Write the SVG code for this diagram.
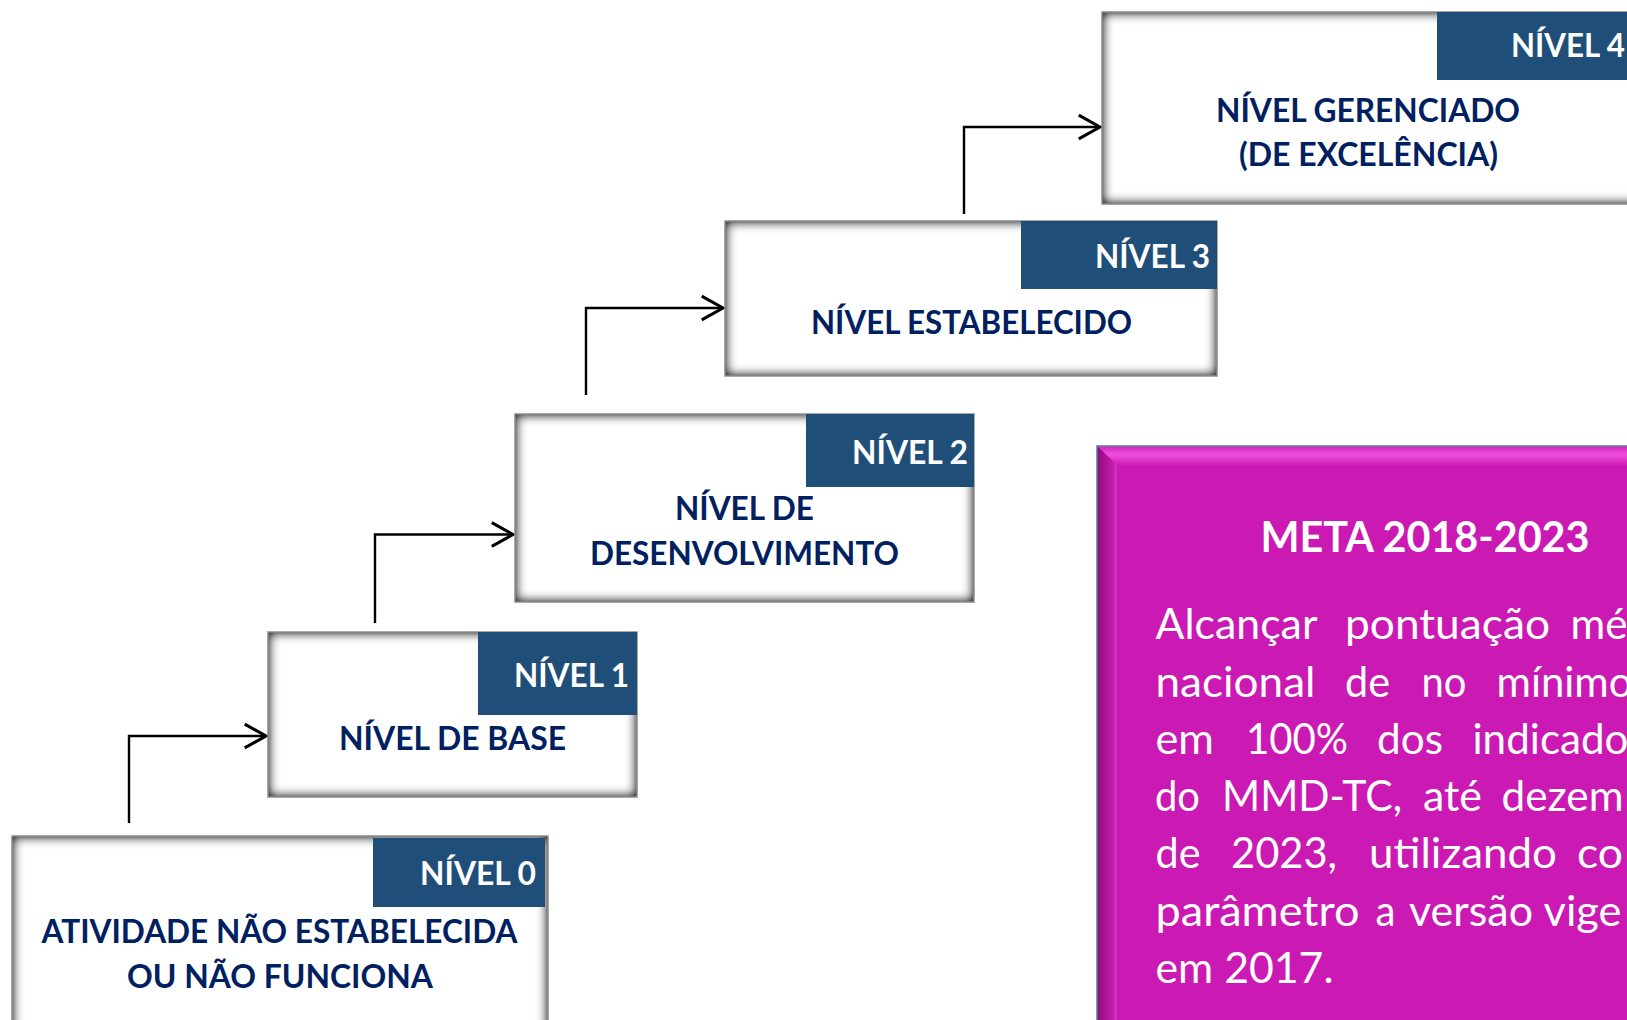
<svg xmlns="http://www.w3.org/2000/svg" width="1627" height="1020" viewBox="0 0 1627 1020">
<defs>
<style>
.box{fill:#ffffff}
.edge{fill:none;stroke:#8c8c8c;stroke-width:1.5}
.tab{fill:#1f4e79}
.tl{font-family:Lato,"Liberation Sans",sans-serif;font-weight:bold;font-size:32px;fill:#ffffff}
.lbl{font-family:Lato,"Liberation Sans",sans-serif;font-weight:bold;font-size:32px;fill:#002060}
.conn{fill:none;stroke:#000000;stroke-width:2.4;marker-end:url(#arr)}
.meta-t{font-family:Lato,"Liberation Sans",sans-serif;font-weight:bold;font-size:42px;fill:#ffffff}
.mb{font-family:Lato,"Liberation Sans",sans-serif;font-size:43px;fill:#ffffff}
</style>
<filter id="inset" x="-10%" y="-15%" width="120%" height="130%" color-interpolation-filters="sRGB">
<feFlood flood-color="#4a4a4a" result="c"/>
<feComposite in="c" in2="SourceAlpha" operator="out" result="outside"/>
<feGaussianBlur in="outside" stdDeviation="6" result="blur"/>
<feComposite in="blur" in2="SourceAlpha" operator="in" result="sh"/>
<feComponentTransfer in="sh" result="shadow"><feFuncA type="linear" slope="1.6"/></feComponentTransfer>
<feMerge><feMergeNode in="SourceGraphic"/><feMergeNode in="shadow"/></feMerge>
</filter>
<marker id="arr" markerUnits="userSpaceOnUse" markerWidth="30" markerHeight="30" viewBox="-20 -12 24 24" refX="0" refY="0" orient="auto">
<path d="M-17,-9.5 L0,0 L-17,9.5" fill="none" stroke="#000000" stroke-width="2.4"/>
</marker>
<linearGradient id="topBev" x1="0" y1="0" x2="0" y2="1">
<stop offset="0" stop-color="#d225bd"/>
<stop offset="0.45" stop-color="#f04ee0"/>
<stop offset="1" stop-color="#cf1fb8"/>
</linearGradient>
<linearGradient id="leftBev" x1="0" y1="0" x2="1" y2="0">
<stop offset="0" stop-color="#8a0e7b"/>
<stop offset="0.6" stop-color="#b8159f"/>
<stop offset="1" stop-color="#d22abd"/>
</linearGradient>
</defs>
<rect width="1627" height="1020" fill="#ffffff"/>

<g id="connectors">
<path class="conn" d="M129,823 V736 H266"/>
<path class="conn" d="M375,623 V534.5 H513"/>
<path class="conn" d="M586,395 V308 H723"/>
<path class="conn" d="M964,214 V127 H1100"/>
</g>

<g id="nivel0">
<rect class="box" x="12" y="836" width="536" height="200" filter="url(#inset)"/>
<rect class="edge" x="12" y="836" width="536" height="200"/>
<rect class="tab" x="373" y="838" width="172" height="69"/>
<text class="tl" x="420" y="885" textLength="116" lengthAdjust="spacingAndGlyphs">NÍVEL 0</text>
<text class="lbl" x="41.5" y="943" textLength="476" lengthAdjust="spacingAndGlyphs">ATIVIDADE NÃO ESTABELECIDA</text>
<text class="lbl" x="127" y="988" textLength="306" lengthAdjust="spacingAndGlyphs">OU NÃO FUNCIONA</text>
</g>

<g id="nivel1">
<rect class="box" x="268" y="632" width="369" height="165" filter="url(#inset)"/>
<rect class="edge" x="268" y="632" width="369" height="165"/>
<rect class="tab" x="478" y="632" width="159" height="83"/>
<text class="tl" x="514" y="687" textLength="115" lengthAdjust="spacingAndGlyphs">NÍVEL 1</text>
<text class="lbl" x="339" y="750" textLength="227" lengthAdjust="spacingAndGlyphs">NÍVEL DE BASE</text>
</g>

<g id="nivel2">
<rect class="box" x="515" y="414" width="459" height="188" filter="url(#inset)"/>
<rect class="edge" x="515" y="414" width="459" height="188"/>
<rect class="tab" x="806" y="414" width="168" height="73"/>
<text class="tl" x="852" y="464" textLength="116" lengthAdjust="spacingAndGlyphs">NÍVEL 2</text>
<text class="lbl" x="675" y="520" textLength="139" lengthAdjust="spacingAndGlyphs">NÍVEL DE</text>
<text class="lbl" x="590" y="565" textLength="309" lengthAdjust="spacingAndGlyphs">DESENVOLVIMENTO</text>
</g>

<g id="nivel3">
<rect class="box" x="725" y="221" width="492" height="155" filter="url(#inset)"/>
<rect class="edge" x="725" y="221" width="492" height="155"/>
<rect class="tab" x="1021" y="221" width="196" height="68"/>
<text class="tl" x="1095" y="268" textLength="115" lengthAdjust="spacingAndGlyphs">NÍVEL 3</text>
<text class="lbl" x="811" y="334" textLength="321" lengthAdjust="spacingAndGlyphs">NÍVEL ESTABELECIDO</text>
</g>

<g id="nivel4">
<rect class="box" x="1102" y="12" width="540" height="192" filter="url(#inset)"/>
<rect class="edge" x="1102" y="12" width="540" height="192"/>
<rect class="tab" x="1437" y="12" width="200" height="68"/>
<text class="tl" x="1511" y="57" textLength="114" lengthAdjust="spacingAndGlyphs">NÍVEL 4</text>
<text class="lbl" x="1216" y="122" textLength="304" lengthAdjust="spacingAndGlyphs">NÍVEL GERENCIADO</text>
<text class="lbl" x="1239" y="166" textLength="259" lengthAdjust="spacingAndGlyphs">(DE EXCELÊNCIA)</text>
</g>

<g id="meta">
<rect x="1097" y="446" width="545" height="590" fill="#cb19b4"/>
<polygon points="1097,446 1642,446 1642,465 1117,465" fill="url(#topBev)"/>
<polygon points="1097,446 1117,465 1117,1036 1097,1036" fill="url(#leftBev)"/>
<line x1="1116" y1="465" x2="1116" y2="1036" stroke="#d83cc6" stroke-width="1"/>
<rect x="1097" y="446" width="545" height="590" fill="none" stroke="#5a7b98" stroke-width="1.5"/>
<text class="meta-t" x="1260.5" y="552" textLength="329" lengthAdjust="spacingAndGlyphs">META 2018-2023</text>
<text class="mb" x="1155.5" y="639" textLength="162" lengthAdjust="spacingAndGlyphs">Alcançar</text>
<text class="mb" x="1345" y="639" textLength="205" lengthAdjust="spacingAndGlyphs">pontuação</text>
<text class="mb" x="1570.5" y="639" textLength="57" lengthAdjust="spacingAndGlyphs">mé</text>
<text class="mb" x="1155.5" y="696.5" textLength="160" lengthAdjust="spacingAndGlyphs">nacional</text>
<text class="mb" x="1345" y="696.5" textLength="45" lengthAdjust="spacingAndGlyphs">de</text>
<text class="mb" x="1421.5" y="696.5" textLength="45" lengthAdjust="spacingAndGlyphs">no</text>
<text class="mb" x="1496.5" y="696.5" textLength="136" lengthAdjust="spacingAndGlyphs">mínimo</text>
<text class="mb" x="1155.5" y="753.5" textLength="58.5" lengthAdjust="spacingAndGlyphs">em</text>
<text class="mb" x="1246" y="753.5" textLength="102" lengthAdjust="spacingAndGlyphs">100%</text>
<text class="mb" x="1377" y="753.5" textLength="66" lengthAdjust="spacingAndGlyphs">dos</text>
<text class="mb" x="1472.5" y="753.5" textLength="156" lengthAdjust="spacingAndGlyphs">indicado</text>
<text class="mb" x="1155" y="811" textLength="45" lengthAdjust="spacingAndGlyphs">do</text>
<text class="mb" x="1222" y="811" textLength="180" lengthAdjust="spacingAndGlyphs">MMD-TC,</text>
<text class="mb" x="1423" y="811" textLength="59" lengthAdjust="spacingAndGlyphs">até</text>
<text class="mb" x="1501.5" y="811" textLength="122" lengthAdjust="spacingAndGlyphs">dezem</text>
<text class="mb" x="1155.5" y="868" textLength="45" lengthAdjust="spacingAndGlyphs">de</text>
<text class="mb" x="1231" y="868" textLength="106" lengthAdjust="spacingAndGlyphs">2023,</text>
<text class="mb" x="1369" y="868" textLength="188" lengthAdjust="spacingAndGlyphs">utilizando</text>
<text class="mb" x="1577" y="868" textLength="46" lengthAdjust="spacingAndGlyphs">co</text>
<text class="mb" x="1155.5" y="926" textLength="204" lengthAdjust="spacingAndGlyphs">parâmetro</text>
<text class="mb" x="1375.5" y="926" textLength="20" lengthAdjust="spacingAndGlyphs">a</text>
<text class="mb" x="1409" y="926" textLength="124" lengthAdjust="spacingAndGlyphs">versão</text>
<text class="mb" x="1543.5" y="926" textLength="78" lengthAdjust="spacingAndGlyphs">vige</text>
<text class="mb" x="1155.5" y="983" textLength="178" lengthAdjust="spacingAndGlyphs">em 2017.</text>
</g>
</svg>
